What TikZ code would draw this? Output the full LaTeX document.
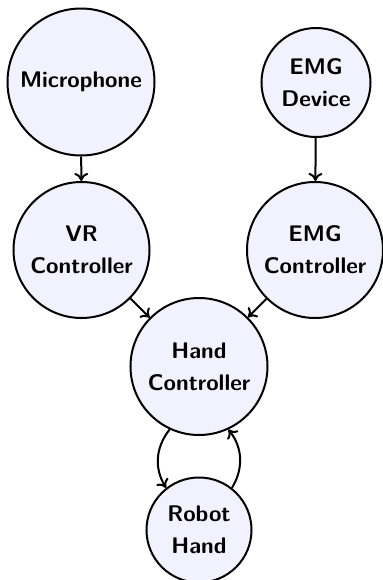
\documentclass[tikz,border=0pt]{standalone}
\usetikzlibrary{arrows.meta}
\definecolor{nodefill}{RGB}{242,242,255}
\begin{document}
\begin{tikzpicture}[x=0.5pt,y=-0.5pt,
  unit/.style={circle,draw=black,fill=nodefill,line width=1pt,inner sep=0pt,
    align=center,font=\sffamily\bfseries\fontsize{11.3}{16}\selectfont},
  conn/.style={-{To[length=4pt,width=7pt]},line width=1pt}]
\useasboundingbox (0,0) rectangle (383,580);
\node[unit,minimum size=73.5pt] (mic) at (81,82) {Microphone};
\node[unit,minimum size=54.5pt] (emgd) at (316,82.5) {EMG\\Device};
\node[unit,minimum size=68pt] (vr) at (81.5,250) {VR\\Controller};
\node[unit,minimum size=68pt] (emgc) at (315,250) {EMG\\Controller};
\node[unit,minimum size=68.5pt] (hand) at (199,366.5) {Hand\\Controller};
\node[unit,minimum size=52.5pt] (robot) at (199,530) {Robot\\Hand};
\draw[conn] (mic) -- (vr);
\draw[conn] (emgd) -- (emgc);
\draw[conn] (vr) -- (hand);
\draw[conn] (emgc) -- (hand);
\draw[conn] (hand.-115) to[bend right=35] (robot.128);
\draw[conn] (robot.52) to[bend right=35] (hand.-65);
\end{tikzpicture}
\end{document}
